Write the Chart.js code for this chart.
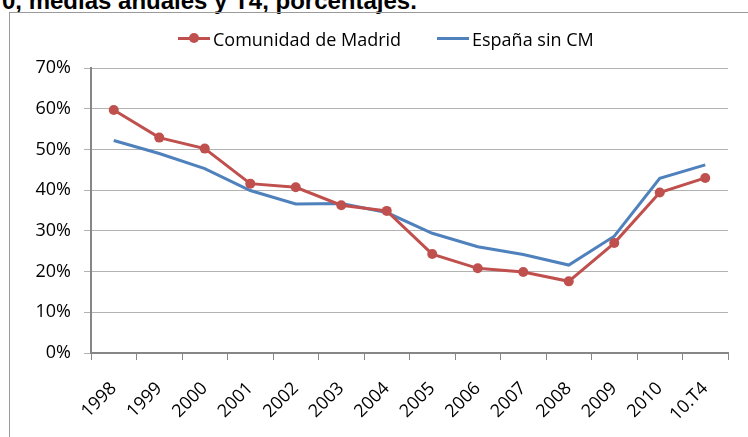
<!DOCTYPE html>
<html>
<head>
<meta charset="utf-8">
<script src="https://cdn.jsdelivr.net/npm/chart.js@4/dist/chart.umd.min.js"></script>
<style>
    html, body { margin: 0; padding: 0; width: 748px; height: 437px; overflow: hidden; background: #fff; }
    .title {
        position: absolute; left: 2px; top: -11px;
        font: bold 24px "Liberation Sans", Arial, sans-serif; line-height: 24px;
        color: #000; white-space: nowrap;
    }
    .frame {
        position: absolute; left: 9px; top: 12px; width: 800px; height: 500px;
        border: 1px solid #9a9a9a;
    }
    #chartWrap { position: absolute; left: 0; top: 0; width: 748px; height: 437px; }
    .legend-item {
        position: absolute; top: 28px; height: 22px; display: flex; align-items: center;
        font: 18px "Open Sans", sans-serif; color: #000; white-space: nowrap;
    }
    .legend-mark { position: relative; width: 32px; height: 22px; margin-right: 3px; }
    .legend-mark .ln { position: absolute; left: 0; right: 0; top: 9px; height: 3px; }
    .legend-mark .dot { position: absolute; left: 11px; top: 5px; width: 10px; height: 10px; border-radius: 50%; }
</style>
</head>
<body>
<div class="title">0, medias anuales y T4, porcentajes.</div>
<div class="frame"></div>
<div id="chartWrap"><canvas id="chart"></canvas></div>
<div id="legend"></div>

<script>
// ---------- data ----------
const years = ['1998', '1999', '2000', '2001', '2002', '2003', '2004', '2005', '2006', '2007', '2008', '2009', '2010', '10.T4'];
const madrid = [59.7, 52.9, 50.2, 41.6, 40.7, 36.3, 34.9, 24.3, 20.8, 19.9, 17.6, 27.0, 39.4, 43.0];
const espana = [52.2, 49.0, 45.3, 39.9, 36.6, 36.7, 34.5, 29.4, 26.1, 24.2, 21.6, 28.7, 42.9, 46.2];
const yMin = 0;
const yMax = 70;
const yStep = 10;

const RED = '#C0504D';
const BLUE = '#4F81BD';

Chart.defaults.font.family = '"Open Sans", sans-serif';
Chart.defaults.font.size = 18;
Chart.defaults.color = '#000';

const ctx = document.getElementById('chart').getContext('2d');
const chart = new Chart(ctx, {
    type: 'line',
    data: {
        labels: years,
        datasets: [
            {
                label: 'Comunidad de Madrid',
                data: madrid,
                borderColor: RED,
                backgroundColor: RED,
                borderWidth: 3,
                pointRadius: 5,
                pointBorderWidth: 0,
                pointBackgroundColor: RED,
                tension: 0
            },
            {
                label: 'España sin CM',
                data: espana,
                borderColor: BLUE,
                backgroundColor: BLUE,
                borderWidth: 3,
                pointRadius: 0,
                tension: 0
            }
        ]
    },
    options: {
        responsive: true,
        maintainAspectRatio: false,
        animation: false,
        layout: { padding: { top: 68, right: 20, bottom: 0, left: 0 } },
        plugins: {
            legend: { display: false },
            title: { display: false },
            tooltip: { enabled: false }
        },
        scales: {
            x: {
                offset: true,
                afterFit: s => { s.height = 84; },
                grid: {
                    offset: true,
                    drawOnChartArea: false,
                    drawTicks: true,
                    tickLength: 7,
                    color: '#868686',
                    lineWidth: 1
                },
                border: { color: '#868686', width: 2 },
                ticks: { autoSkip: false, minRotation: 45, maxRotation: 45, padding: 18 }
            },
            y: {
                min: yMin,
                max: yMax,
                afterFit: s => { s.width = 91; },
                grid: { color: '#b2b2b2', lineWidth: 1, tickLength: 7 },
                border: { color: '#868686', width: 2 },
                ticks: {
                    stepSize: yStep,
                    padding: 13,
                    callback: v => v + '%'
                }
            }
        }
    }
});

// ---------- legend (html, built from the datasets) ----------
const legendLeft = [178, 437];
const legend = document.getElementById('legend');
chart.data.datasets.forEach((ds, i) => {
    const item = document.createElement('div');
    item.className = 'legend-item';
    item.style.left = legendLeft[i] + 'px';
    const mark = document.createElement('span');
    mark.className = 'legend-mark';
    const ln = document.createElement('span');
    ln.className = 'ln';
    ln.style.background = ds.borderColor;
    mark.appendChild(ln);
    if (ds.pointRadius > 0) {
        const dot = document.createElement('span');
        dot.className = 'dot';
        dot.style.background = ds.pointBackgroundColor;
        mark.appendChild(dot);
    }
    item.appendChild(mark);
    const txt = document.createElement('span');
    txt.textContent = ds.label;
    item.appendChild(txt);
    legend.appendChild(item);
});
</script>
</body>
</html>
